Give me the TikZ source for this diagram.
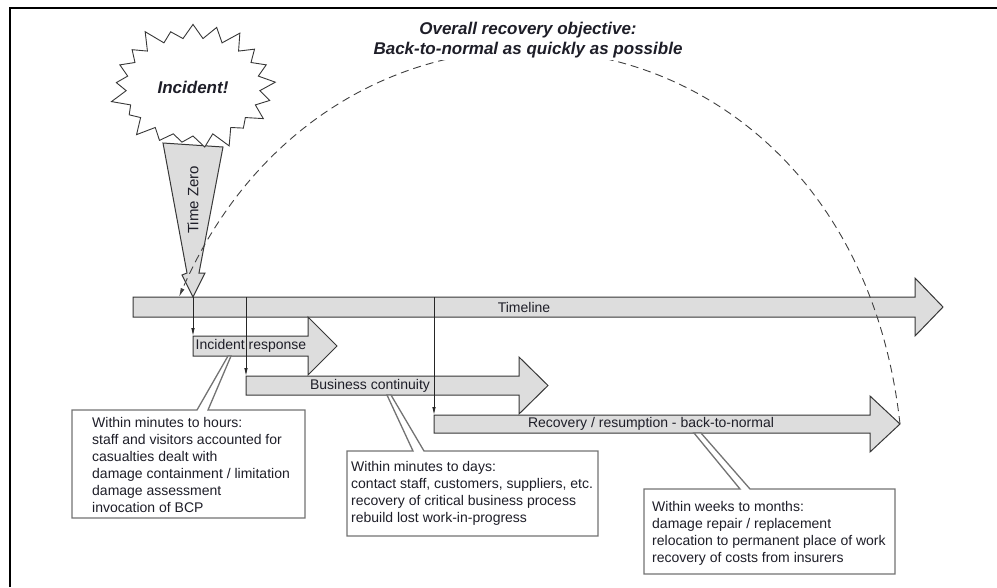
\documentclass[tikz,border=0pt]{standalone}
\usepackage{fontspec}
\setmainfont{Liberation Sans}
\usetikzlibrary{shapes.symbols,arrows.meta}

\definecolor{bargray}{RGB}{221,221,221}
\definecolor{edgegray}{RGB}{55,55,55}
\definecolor{boxgray}{RGB}{115,115,115}
\definecolor{inkgray}{RGB}{30,30,40}

% grey phase arrow: left x, head base x, tip x, body top y, body bottom y
\newcommand{\phasearrow}[5]{%
  \draw[phase] (#1,#4) -- (#2,#4) -- (#2,#4-19) -- (#3,{(#4+#5)/2})
    -- (#2,#5+19) -- (#2,#5) -- (#1,#5) -- cycle;}

\begin{document}
\begin{tikzpicture}[x=1pt, y=-1pt, font=\fontsize{14}{17}\selectfont, text=inkgray,
  phase/.style={draw=edgegray, fill=bargray, line width=1pt},
  link/.style={draw=black!85, line width=0.8pt, -{Latex[length=8pt,width=3.5pt]}},
  note/.style={draw=boxgray, fill=white, line width=1.3pt},
  notetext/.style={anchor=north west, inner sep=0pt, align=left},
  heading/.style={font=\fontsize{17}{20}\selectfont\bfseries\itshape}]
\useasboundingbox (0,0) rectangle (997,587);
% frame
\draw[line width=2.5pt] (10,587) -- (10,8) -- (997,8);

% phases
\phasearrow{133}{915}{943}{297}{317}
\phasearrow{193}{308}{337}{336}{356}
\phasearrow{246}{519}{548}{376}{395}
\phasearrow{434}{870}{900}{415}{433}
\node (tl) at (524,307) {Timeline};
\node (ir) at (251,346) {Incident response};
\node (bc) at (370,386) {Business continuity};
\node (rr) at (651,424) {Recovery / resumption - back-to-normal};

% start of each phase
\coordinate (t0) at (193,297);
\coordinate (t1) at (246,297);
\coordinate (t2) at (434,297);
\coordinate (ir-in) at (193,336);
\coordinate (bc-in) at (246,376);
\coordinate (rr-in) at (434,415);
\draw[link] (t0) -- (ir-in);
\draw[link] (t1) -- (bc-in);
\draw[link] (t2) -- (rr-in);

% time zero
\draw[phase] (163,143) -- (187,273) -- (182,275) -- (t0) -- (205,273) -- (199,273) -- (223,147) -- cycle;
\node[rotate=90, font=\fontsize{15}{18}\selectfont] (tzero) at (193,200) {Time Zero};

% overall objective
\coordinate (rtip) at (900,424);
\coordinate (back) at (179,297);
\draw[black!75, line width=0.9pt, dash pattern=on 8pt off 5pt, -{Latex[length=9pt,width=4pt]}]
  (rtip) .. controls (851,-18) and (341,-75) .. (back);
\node[starburst, draw=edgegray, fill=white, line width=0.9pt, starburst points=21,
  starburst point height=19pt, minimum width=172pt, minimum height=136pt, inner sep=0pt,
  heading] (burst) at (193,87) {Incident!};
\node[heading, fill=white, align=center, inner sep=2pt] (goal) at (528,40)
  {Overall recovery objective:\\Back-to-normal as quickly as possible};

% callouts
\draw[note] (72,410) -- (197,410) -- (228,356) -- (231,356) -- (208,410) -- (305,410)
  -- (305,518) -- (72,518) -- cycle;
\node[notetext] (note1) at (92,417) {Within minutes to hours:\\staff and visitors accounted for\\casualties dealt with\\damage containment / limitation\\damage assessment\\invocation of BCP};
\draw[note] (347,451) -- (413,451) -- (387,395) -- (391,395) -- (424,451) -- (598,451)
  -- (598,536) -- (347,536) -- cycle;
\node[notetext] (note2) at (351,461) {Within minutes to days:\\contact staff, customers, suppliers, etc.\\recovery of critical business process\\rebuild lost work-in-progress};
\draw[note] (644,489) -- (740,489) -- (694,433) -- (701,433) -- (750,489) -- (895,489)
  -- (895,574) -- (644,574) -- cycle;
\node[notetext] (note3) at (652,501) {Within weeks to months:\\damage repair / replacement\\relocation to permanent place of work\\recovery of costs from insurers};
\end{tikzpicture}
\end{document}
